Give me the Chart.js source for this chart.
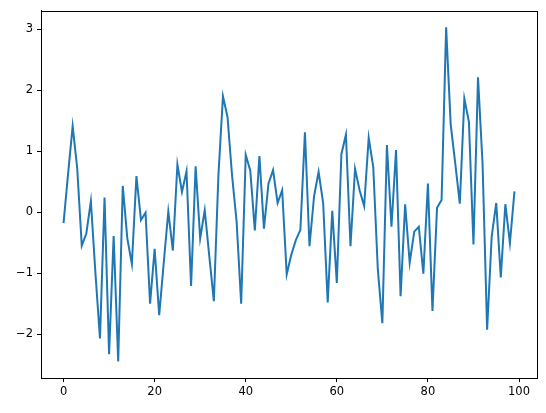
<!DOCTYPE html>
<html>
<head>
<meta charset="utf-8">
<script src="https://cdn.jsdelivr.net/npm/chart.js@4"></script>
<style>
html,body{margin:0;padding:0;background:#fff;}
#wrap{width:546px;height:413px;}
</style>
</head>
<body>
<div id="wrap"><canvas id="c" width="546" height="413"></canvas></div>
<script>
const xIndex = Array.from({length: 100}, (_, i) => i);
const seriesValues = [
 -0.18, 0.63, 1.41, 0.72, -0.55, -0.35, 0.18, -1.00, -2.07, 0.24,
 -2.33, -0.39, -2.45, 0.43, -0.43, -0.85, 0.59, -0.13, -0.01, -1.50,
 -0.60, -1.69, -0.83, 0.01, -0.63, 0.78, 0.33, 0.67, -1.21, 0.75,
 -0.43, 0.03, -0.72, -1.46, 0.60, 1.90, 1.56, 0.60, -0.16, -1.50,
 0.94, 0.68, -0.30, 0.92, -0.27, 0.47, 0.69, 0.15, 0.36, -1.02,
 -0.70, -0.46, -0.29, 1.31, -0.56, 0.26, 0.66, 0.15, -1.48, 0.02,
 -1.16, 0.95, 1.27, -0.56, 0.71, 0.36, 0.10, 1.22, 0.74, -0.94,
 -1.82, 1.10, -0.24, 1.02, -1.38, 0.13, -0.83, -0.32, -0.24, -1.01,
 0.47, -1.62, 0.07, 0.20, 3.03, 1.44, 0.80, 0.14, 1.86, 1.48,
 -0.53, 2.21, 0.79, -1.93, -0.40, 0.15, -1.07, 0.13, -0.51, 0.34
];
const xTicks = [0, 20, 40, 60, 80, 100];
const yTicks = [-2, -1, 0, 1, 2, 3];

const points = xIndex.map((x, i) => ({x: x, y: seriesValues[i]}));

const frame = {
  id: 'frame',
  afterDraw(chart) {
    const a = chart.chartArea, ctx = chart.ctx;
    ctx.save();
    ctx.strokeStyle = '#000';
    ctx.lineWidth = 1;
    ctx.strokeRect(Math.round(a.left) + 0.5, Math.round(a.top) + 0.5,
                   Math.round(a.right - a.left), Math.round(a.bottom - a.top));
    ctx.restore();
  }
};

Chart.defaults.font.family = 'DejaVu Sans';
Chart.defaults.font.size = 11.5;
Chart.defaults.color = '#000';

new Chart(document.getElementById('c'), {
  type: 'line',
  data: {
    datasets: [{
      data: points,
      borderColor: '#1f77b4',
      borderWidth: 2,
      pointRadius: 0,
      tension: 0,
      fill: false
    }]
  },
  options: {
    responsive: false,
    animation: false,
    devicePixelRatio: 1,
    layout: {padding: {top: 10, right: 9, left: 0, bottom: 0}},
    plugins: {legend: {display: false}, tooltip: {enabled: false}},
    scales: {
      x: {
        type: 'linear',
        min: -4.95,
        max: 103.95,
        afterBuildTicks(s) { s.ticks = xTicks.map(v => ({value: v})); },
        afterFit(s) { s.height = 35; },
        grid: {drawOnChartArea: false, drawTicks: true, tickLength: 4, color: '#000', tickColor: '#000'},
        border: {display: true, color: '#000', width: 1},
        ticks: {padding: 3, maxRotation: 0, autoSkip: false, callback: v => String(v)}
      },
      y: {
        type: 'linear',
        min: -2.72,
        max: 3.30,
        afterBuildTicks(s) { s.ticks = yTicks.map(v => ({value: v})); },
        afterFit(s) { s.width = 41; },
        grid: {drawOnChartArea: false, drawTicks: true, tickLength: 4, color: '#000', tickColor: '#000'},
        border: {display: true, color: '#000', width: 1},
        ticks: {padding: 4, autoSkip: false, callback: v => (v < 0 ? '\u2212' + Math.abs(v) : String(v))}
      }
    }
  },
  plugins: [frame]
});
</script>
</body>
</html>
